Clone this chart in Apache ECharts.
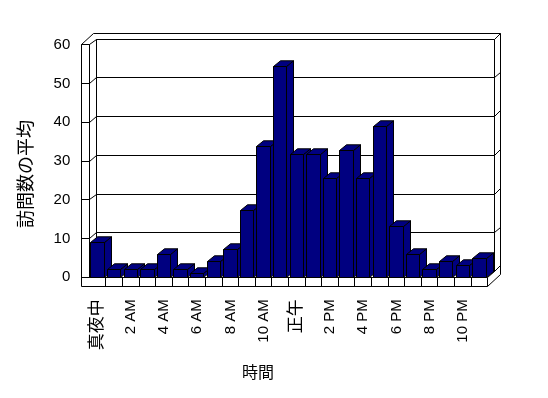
<!DOCTYPE html>
<html>
<head>
<meta charset="utf-8">
<script src="https://cdn.jsdelivr.net/npm/echarts@6/dist/echarts.min.js"></script>
<style>html,body{margin:0;padding:0;background:#fff}#c{width:548px;height:398px}</style>
</head>
<body>
<div id="c"></div>
<script>
// ---- data ----
var categories = ['真夜中','1 AM','2 AM','3 AM','4 AM','5 AM','6 AM','7 AM','8 AM','9 AM','10 AM','11 AM',
                  '正午','1 PM','2 PM','3 PM','4 PM','5 PM','6 PM','7 PM','8 PM','9 PM','10 PM','11 PM'];
var visits = [9.1, 1.9, 1.9, 1.9, 6.0, 1.9, 0.9, 4.2, 7.3, 17.3, 33.8, 54.5,
              31.7, 31.7, 25.6, 32.7, 25.6, 38.9, 13.1, 5.9, 1.9, 4.1, 3.1, 4.9];
var yTicks = [0, 10, 20, 30, 40, 50, 60];
var yAxisName = '訪問数の平均';
var xAxisName = '時間';

// ---- style constants ----
var FONT = '"Liberation Sans", "Noto Sans CJK JP", sans-serif';
var BAR = '#000080';
var DX = 7, DY = -5.7;        // depth of the plot box (back wall offset)
var ODX = 12.5, ODY = -11.4;  // outer frame depth
var WALL = 8, FLOOR = 8.7;    // wall / floor thickness
var BARW = 0.8;               // bar width relative to category

function h(v){ return Math.round(v - 0.5) + 0.5; }
function line(a, b){ return {type:'line', shape:{x1:h(a[0]),y1:h(a[1]),x2:h(b[0]),y2:h(b[1])}, style:{stroke:'#000',lineWidth:1}, z2:1}; }

var chart = echarts.init(document.getElementById('c'), null, {renderer:'canvas'});

function frameItem(params, api){
  var c0 = api.coord([0, 0]);
  var bw = api.size([1, 0])[0];
  var X0 = c0[0] - bw / 2;
  var X1 = X0 + bw * categories.length;
  var Y0 = c0[1];
  var YT = api.coord([0, yTicks[yTicks.length - 1]])[1];
  var els = [];
  var OL = X0 - WALL, OB = Y0 + FLOOR;
  // outer frame
  els.push(line([OL, YT], [OL, OB]));
  els.push(line([OL, OB], [X1, OB]));
  els.push(line([X1, OB], [X1 + ODX, OB + ODY]));
  els.push(line([X1 + ODX, OB + ODY], [X1 + ODX, YT + ODY]));
  els.push(line([X1 + ODX, YT + ODY], [OL + ODX, YT + ODY]));
  els.push(line([OL + ODX, YT + ODY], [OL, YT]));
  els.push(line([OL, YT], [X0, YT]));
  // front plane left & floor top edge
  els.push(line([X0, YT], [X0, Y0]));
  els.push(line([X0, Y0], [X1, Y0]));
  els.push(line([X1, Y0], [X1, OB]));
  els.push(line([X1, Y0], [X1 + DX, Y0 + DY]));
  // back wall
  els.push(line([X0 + DX, YT + DY], [X1 + DX, YT + DY]));
  els.push(line([X0 + DX, YT + DY], [X0 + DX, Y0 + DY]));
  els.push(line([X1 + DX, YT + DY], [X1 + DX, Y0 + DY]));
  els.push(line([X0 + DX, Y0 + DY], [X1 + DX, Y0 + DY]));
  // value ticks and gridlines
  yTicks.forEach(function(t){
    var y = api.coord([0, t])[1];
    els.push(line([OL, y], [X0, y]));
    els.push(line([X0, y], [X0 + DX, y + DY]));
    els.push(line([X0 + DX, y + DY], [X1 + DX, y + DY]));
    els.push(line([X1 + DX, y + DY], [X1 + ODX, y + DY + (ODY - DY)]));
  });
  // category tick cells on floor front
  for (var i = 1; i < categories.length; i++) {
    var x = X0 + bw * i;
    els.push(line([x, Y0], [x, OB]));
  }
  return {type:'group', children: els};
}

function barItem(params, api){
  var idx = api.value(0);
  var v = api.value(1);
  var base = api.coord([idx, 0]);
  var top = api.coord([idx, v]);
  var w = api.size([1, 0])[0] * BARW;
  var xl = h(base[0] - w / 2), xr = h(base[0] + w / 2);
  var yb = h(base[1]), yt = h(top[1]);
  var st = {fill: BAR, stroke: '#000', lineWidth: 1};
  return {type:'group', children:[
    {type:'polygon', shape:{points:[[xr,yt],[xr+DX,yt+DY],[xr+DX,yb+DY],[xr,yb]]}, style:st},
    {type:'polygon', shape:{points:[[xl,yt],[xl+DX,yt+DY],[xr+DX,yt+DY],[xr,yt]]}, style:st},
    {type:'rect', shape:{x:xl, y:yt, width:xr-xl, height:yb-yt}, style:st}
  ]};
}

var option = {
  animation: false,
  backgroundColor: '#fff',
  textStyle: {fontFamily: FONT},
  grid: {left: 89.3, top: 44.7, width: 398.4, height: 232.6},
  xAxis: {
    type: 'category', data: categories,
    axisLine: {show: false}, axisTick: {show: false},
    axisLabel: {
      interval: 1, rotate: 90, margin: 22, fontSize: 15, color: '#000', fontFamily: FONT,
      formatter: function(v){ return /[A-Za-z0-9]/.test(v) ? v : '{c|' + v + '}'; },
      rich: {c: {fontSize: 17, fontFamily: FONT, color: '#000'}}
    },
    splitLine: {show: false}
  },
  yAxis: {
    type: 'value', min: 0, max: 60, interval: 10,
    axisLine: {show: false}, axisTick: {show: false}, splitLine: {show: false},
    axisLabel: {margin: 19, fontSize: 15, color: '#000', fontFamily: FONT}
  },
  graphic: [
    {type:'text', left: 18, top: 120, rotation: Math.PI/2, style:{text: yAxisName, font: '18px ' + FONT, fill:'#000'}},
    {type:'text', left: 242, top: 366, style:{text: xAxisName, font: '16px ' + FONT, fill:'#000'}}
  ],
  series: [
    {type:'custom', renderItem: frameItem, data: [[0, 0]], z: 1, silent: true},
    {type:'custom', renderItem: barItem, data: visits.map(function(v, i){ return [i, v]; }), z: 2}
  ]
};
chart.setOption(option);
</script>
</body>
</html>
